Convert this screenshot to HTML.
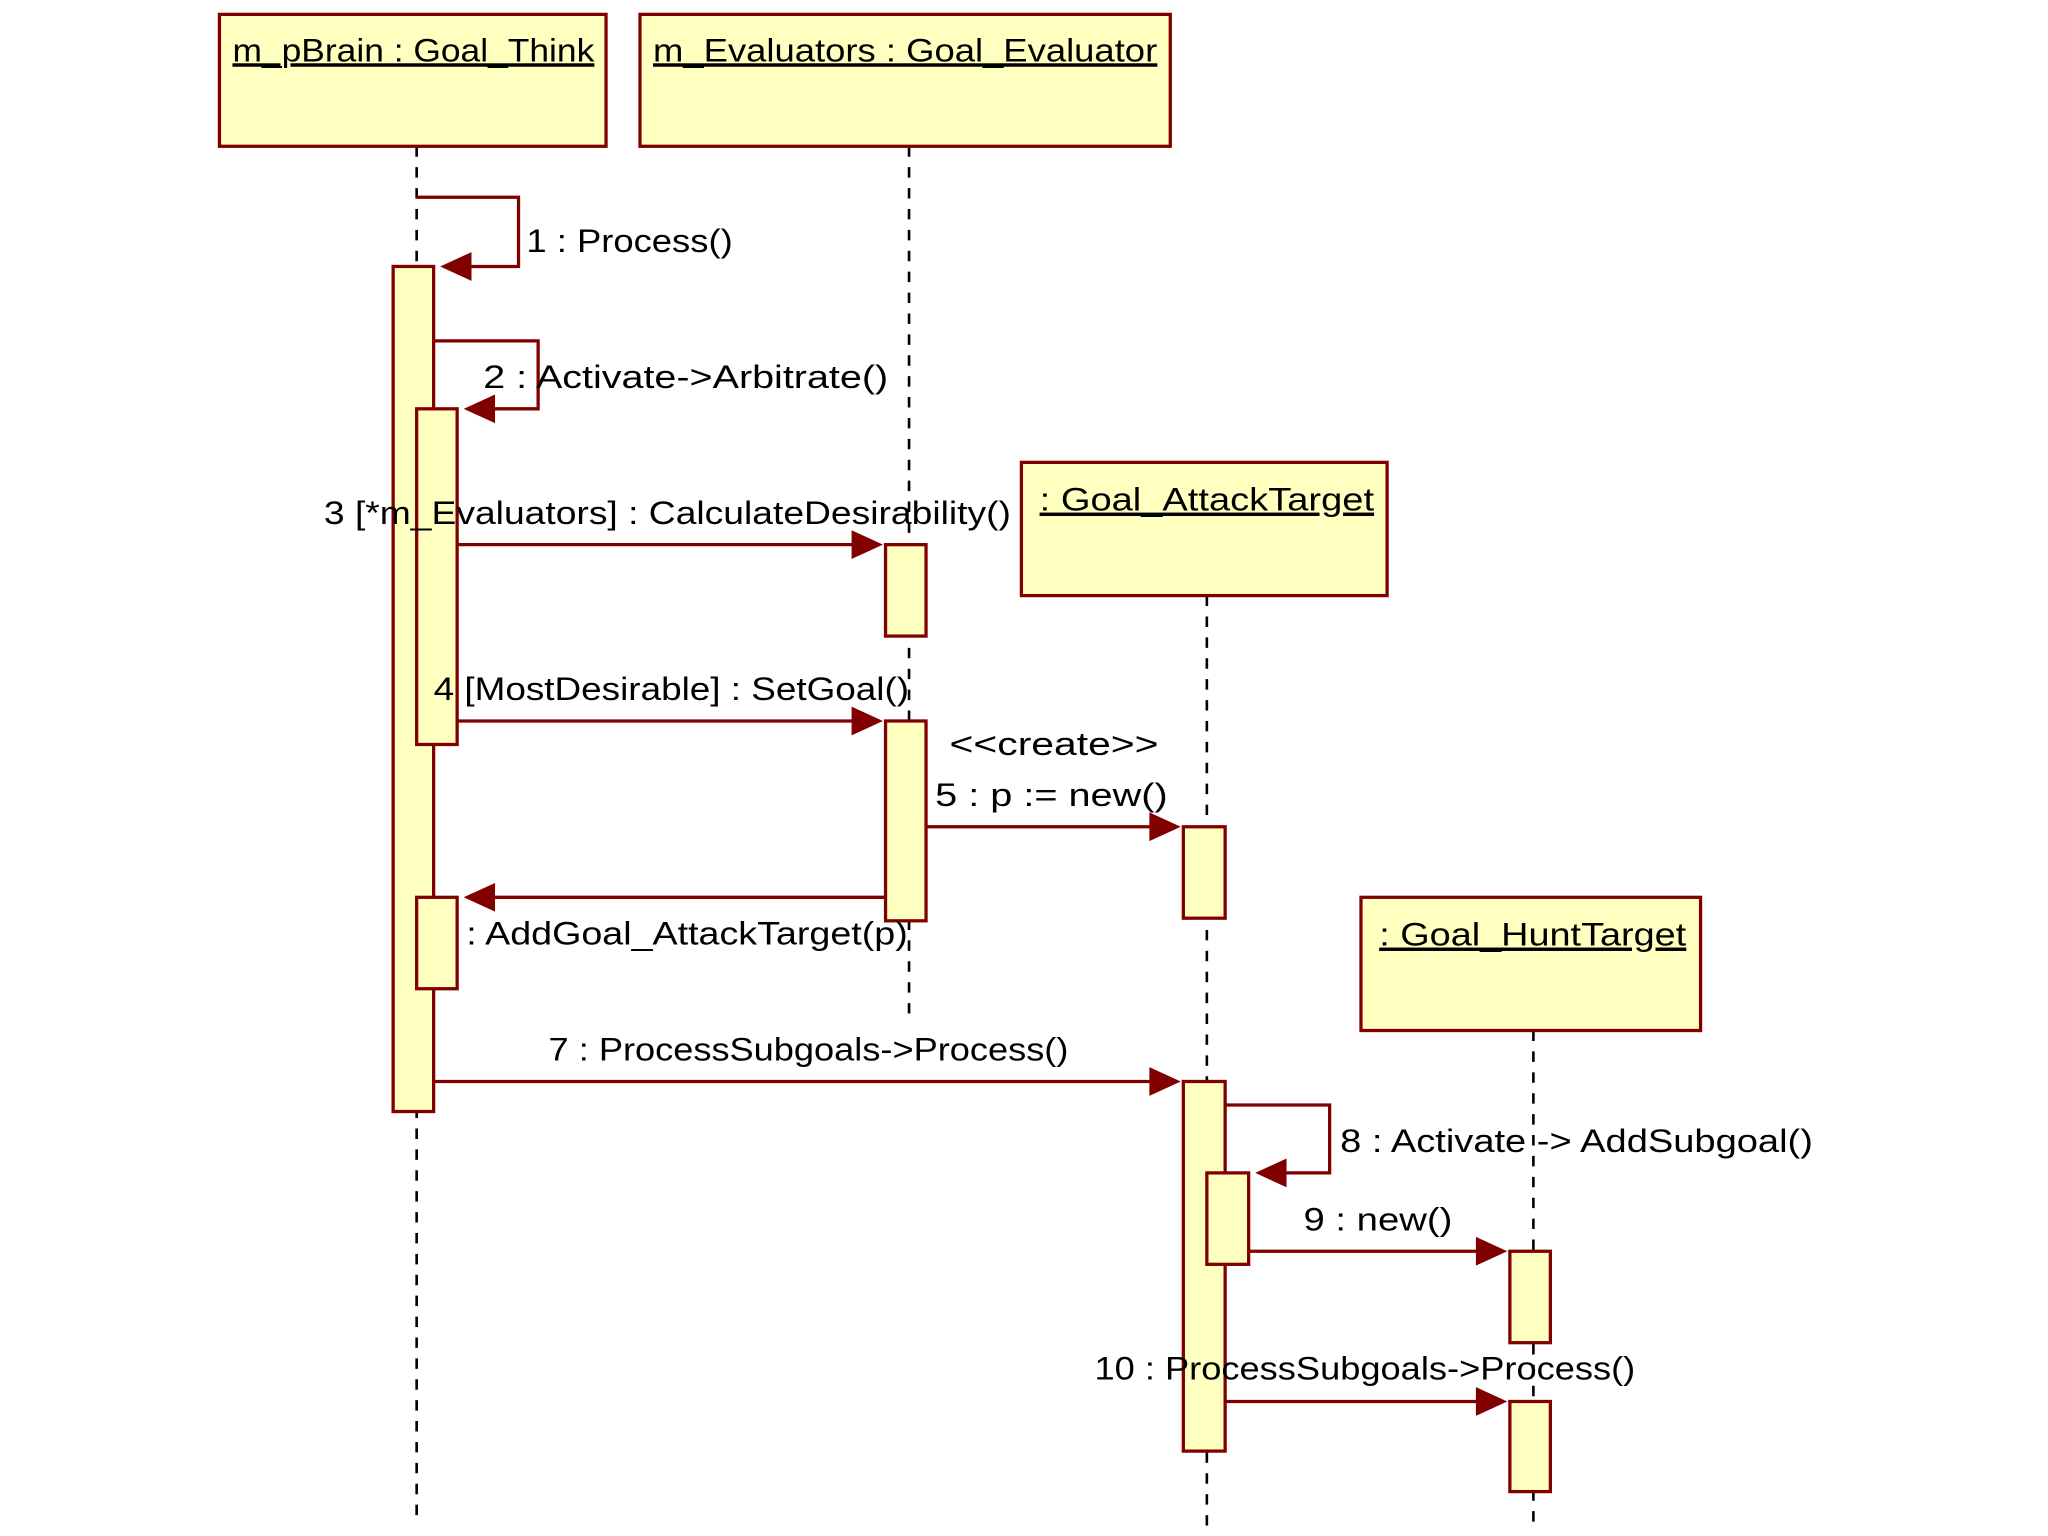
<!DOCTYPE html>
<html><head><meta charset="utf-8"><style>
html,body{margin:0;padding:0;background:#fff;}
svg{display:block;}
text{font-family:"Liberation Sans","DejaVu Sans",sans-serif;font-size:25px;fill:#000;}
</style></head><body>
<svg width="2048" height="1536" viewBox="0 0 1568 1176" xmlns="http://www.w3.org/2000/svg">
<defs>
<marker id="a" markerWidth="12" markerHeight="12" refX="11" refY="6" orient="auto" markerUnits="userSpaceOnUse" viewBox="0 0 12 12"><path d="M0,0 L12,6 L0,12 z" fill="#800000"/></marker>
</defs>
<g stroke="#000" stroke-width="2" stroke-dasharray="8,8" fill="none">
<line x1="319" y1="112" x2="319" y2="1168"/>
<line x1="696" y1="112" x2="696" y2="778"/>
<line x1="924" y1="456" x2="924" y2="1168"/>
<line x1="1174" y1="789" x2="1174" y2="1168"/>
</g>
<g fill="#ffffc0" stroke="#800000" stroke-width="2.5">
<rect x="168" y="11" width="296" height="101"/>
<rect x="490" y="11" width="406" height="101"/>
<rect x="782" y="354" width="280" height="102"/>
<rect x="1042" y="687" width="260" height="102"/>
<rect x="301" y="204" width="31" height="647"/>
<rect x="319" y="313" width="31" height="257"/>
<rect x="319" y="687" width="31" height="70"/>
<rect x="678" y="417" width="31" height="70"/>
<rect x="678" y="552" width="31" height="153"/>
<rect x="906" y="633" width="32" height="70"/>
<rect x="906" y="828" width="32" height="283"/>
<rect x="924" y="898" width="32" height="70"/>
<rect x="1156" y="958" width="31" height="70"/>
<rect x="1156" y="1073" width="31" height="69"/>
</g>
<g stroke="#800000" stroke-width="2.5" fill="none">
<polyline points="319,151 397,151 397,204 340,204"/>
<polyline points="332,261 412,261 412,313 358,313"/>
<line x1="350" y1="417" x2="670" y2="417"/>
<line x1="350" y1="552" x2="670" y2="552"/>
<line x1="709" y1="633" x2="898" y2="633"/>
<line x1="678" y1="687" x2="358" y2="687"/>
<line x1="332" y1="828" x2="898" y2="828"/>
<polyline points="938,846 1018,846 1018,898 964,898"/>
<line x1="956" y1="958" x2="1148" y2="958"/>
<line x1="938" y1="1073" x2="1148" y2="1073"/>
</g>
<g fill="#800000">
<path d="M337,204 l24,-11 v22 z"/>
<path d="M355,313 l24,-11 v22 z"/>
<path d="M676,417 l-24,-11 v22 z"/>
<path d="M676,552 l-24,-11 v22 z"/>
<path d="M904,633 l-24,-11 v22 z"/>
<path d="M355,687 l24,-11 v22 z"/>
<path d="M904,828 l-24,-11 v22 z"/>
<path d="M961,898 l24,-11 v22 z"/>
<path d="M1154,958 l-24,-11 v22 z"/>
<path d="M1154,1073 l-24,-11 v22 z"/>
</g>
<g text-decoration="underline">
<text x="178" y="47" textLength="277" lengthAdjust="spacingAndGlyphs" text-decoration="underline">m_pBrain : Goal_Think</text>
<text x="500" y="47" textLength="386" lengthAdjust="spacingAndGlyphs" text-decoration="underline">m_Evaluators : Goal_Evaluator</text>
<text x="796" y="391" textLength="256" lengthAdjust="spacingAndGlyphs" text-decoration="underline">: Goal_AttackTarget</text>
<text x="1056" y="724" textLength="235" lengthAdjust="spacingAndGlyphs" text-decoration="underline">: Goal_HuntTarget</text>
</g>
<text x="403" y="193" textLength="158" lengthAdjust="spacingAndGlyphs">1 : Process()</text>
<text x="370" y="297" textLength="310" lengthAdjust="spacingAndGlyphs">2 : Activate-&gt;Arbitrate()</text>
<text x="248" y="401" textLength="526" lengthAdjust="spacingAndGlyphs">3 [*m_Evaluators] : CalculateDesirability()</text>
<text x="332" y="536" textLength="364" lengthAdjust="spacingAndGlyphs">4 [MostDesirable] : SetGoal()</text>
<text x="727" y="578" textLength="160" lengthAdjust="spacingAndGlyphs">&lt;&lt;create&gt;&gt;</text>
<text x="716" y="617" textLength="178" lengthAdjust="spacingAndGlyphs">5 : p := new()</text>
<text x="357" y="723" textLength="338" lengthAdjust="spacingAndGlyphs">: AddGoal_AttackTarget(p)</text>
<text x="420" y="812" textLength="398" lengthAdjust="spacingAndGlyphs">7 : ProcessSubgoals-&gt;Process()</text>
<text x="1026" y="882" textLength="362" lengthAdjust="spacingAndGlyphs">8 : Activate -&gt; AddSubgoal()</text>
<text x="998" y="942" textLength="114" lengthAdjust="spacingAndGlyphs">9 : new()</text>
<text x="838" y="1056" textLength="414" lengthAdjust="spacingAndGlyphs">10 : ProcessSubgoals-&gt;Process()</text>
</svg>
</body></html>
